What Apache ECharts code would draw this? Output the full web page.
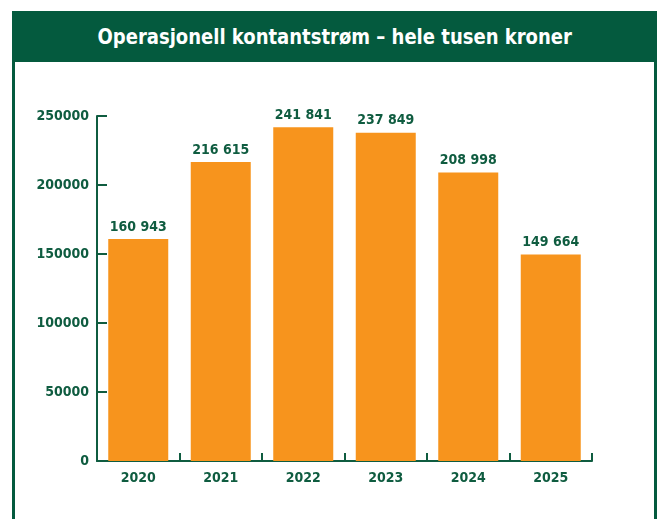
<!DOCTYPE html>
<html>
<head>
<meta charset="utf-8">
<script src="https://cdn.jsdelivr.net/npm/echarts@6/dist/echarts.min.js"></script>
<style>
html,body{margin:0;padding:0;background:#fff;width:660px;height:519px;overflow:hidden;}
#frame{position:absolute;left:12px;top:11px;width:639px;height:520px;border-left:3px solid #045a3e;border-right:3px solid #045a3e;}
#header{position:absolute;left:12px;top:11px;width:645px;height:51px;background:#045a3e;color:#fff;
font-family:"DejaVu Sans Condensed","DejaVu Sans",sans-serif;font-weight:bold;font-size:22px;line-height:51px;text-align:center;}
#header span{display:inline-block;transform:scaleX(0.91);}
#chart{position:absolute;left:0;top:0;width:660px;height:519px;}
</style>
</head>
<body>
<div id="frame"></div>
<div id="header"><span>Operasjonell kontantstrøm – hele tusen kroner</span></div>
<div id="chart"></div>
<script>
const categories = ['2020','2021','2022','2023','2024','2025'];
const values = [160943, 216615, 241841, 237849, 208998, 149664];
const yTicks = [0, 50000, 100000, 150000, 200000, 250000];

const green = '#0f5c40';
const font = '"DejaVu Sans Condensed","DejaVu Sans",sans-serif';
const chart = echarts.init(document.getElementById('chart'));
chart.setOption({
  animation:false,
  grid:{left:97,right:68,top:116,bottom:58},
  xAxis:{
    type:'category',data:categories,boundaryGap:true,
    axisLine:{show:true,lineStyle:{color:green,width:2}},
    axisTick:{show:true,inside:true,length:8,lineStyle:{color:green,width:2}},
    axisLabel:{color:green,fontFamily:font,fontWeight:'bold',fontSize:14,margin:10}
  },
  yAxis:{
    type:'value',min:yTicks[0],max:yTicks[yTicks.length-1],interval:50000,
    splitLine:{show:false},
    axisLine:{show:true,lineStyle:{color:green,width:2}},
    axisTick:{show:true,inside:true,length:10,lineStyle:{color:green,width:2}},
    axisLabel:{color:green,fontFamily:font,fontWeight:'bold',fontSize:14,margin:8,formatter:v=>String(v)}
  },
  series:[{
    type:'bar',data:values,barWidth:60,
    itemStyle:{color:'#f7941d'},
    label:{show:true,position:'top',distance:5,color:green,fontFamily:font,fontWeight:'bold',fontSize:14,
      formatter:p=>String(p.value).replace(/\B(?=(\d{3})+(?!\d))/g,' ')}
  }]
});
</script>
</body>
</html>
